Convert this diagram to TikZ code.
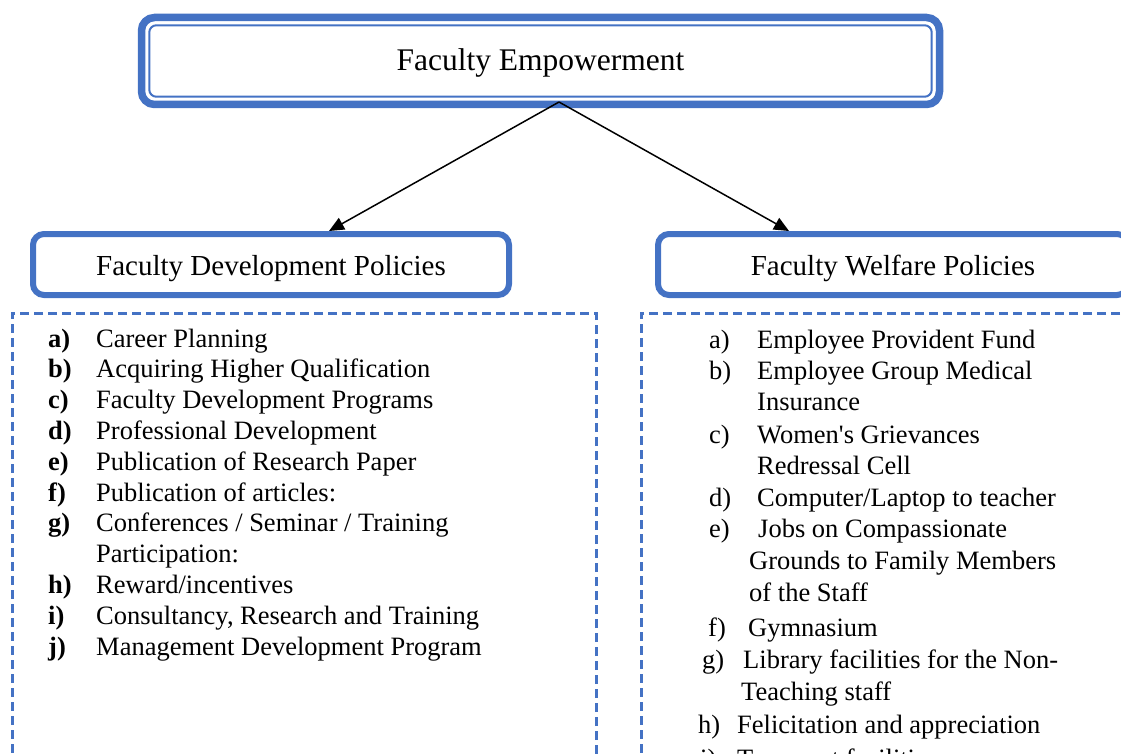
\documentclass[tikz,border=0pt]{standalone}
\usepackage{fontspec}
\newfontfamily\tnr{Liberation Serif}
\usetikzlibrary{arrows.meta}
\definecolor{frameblue}{HTML}{4472C4}
\begin{document}
\begin{tikzpicture}[x=1pt,y=-1pt,
  heading/.style={font=\tnr\fontsize{31.5}{36}\selectfont, draw=frameblue,
    line width=7.5pt, rounded corners=13pt, minimum width=798pt,
    minimum height=87pt, inner sep=0pt, outer sep=0pt,
    text height=22pt, text depth=3pt},
  innerrule/.style={draw=frameblue, line width=2pt, rounded corners=7pt},
  policybox/.style={font=\tnr\fontsize{29}{34}\selectfont, draw=frameblue,
    line width=6pt, rounded corners=11pt, minimum height=61pt, inner sep=0pt,
    text height=22pt, text depth=0.5pt},
  listframe/.style={draw=frameblue, line width=3pt,
    dash pattern=on 9pt off 5pt, inner sep=0pt, minimum height=487pt},
  entry/.style={anchor=base west, inner sep=0pt,
    font=\tnr\fontsize{26.5}{30}\selectfont},
  boldmark/.style={entry, font=\tnr\bfseries\fontsize{26.5}{30}\selectfont},
  link/.style={line width=1.5pt, -{Triangle[length=15pt,width=13pt]}}
]
\useasboundingbox (0,0) rectangle (1121,754);
\clip (0,0) rectangle (1121,754);

% top heading with thick-thin frame
\node[heading] (top) at (540.5,61) {Faculty Empowerment};
\draw[innerrule] ([shift={(7.8pt,7.8pt)}]top.south west)
  rectangle ([shift={(-7.8pt,-7.8pt)}]top.north east);

% the two policy headings
\node[policybox, minimum width=476pt] (dev) at (271,264.5) {Faculty Development Policies};
\node[policybox, minimum width=470pt] (wel) at (893,264.5) {Faculty Welfare Policies};

% connectors
\coordinate (apex) at ([shift={(18.5pt,2.5pt)}]top.south);
\draw[link] (apex) -- ([xshift=58pt]dev.north);
\draw[link] (apex) -- ([xshift=-104pt]wel.north);

% dashed list frames
\node[listframe, minimum width=584pt] (devlist) at (304,556.5) {};
\node[listframe, minimum width=500pt] (wellist) at (891,556.5) {};

% development policies
\node[boldmark] (la) at (48,347) {a)};
\node[entry] (ta) at (96,347) {Career Planning};
\node[boldmark] (lb) at (48,377.8) {b)};
\node[entry] (tb) at (96,377.8) {Acquiring Higher Qualification};
\node[boldmark] (lc) at (48,408.6) {c)};
\node[entry] (tc) at (96,408.6) {Faculty Development Programs};
\node[boldmark] (ld) at (48,439.4) {d)};
\node[entry] (td) at (96,439.4) {Professional Development};
\node[boldmark] (le) at (48,470.2) {e)};
\node[entry] (te) at (96,470.2) {Publication of Research Paper};
\node[boldmark] (lf) at (48,501) {f)};
\node[entry] (tf) at (96,501) {Publication of articles:};
\node[boldmark] (lg) at (48,531.8) {g)};
\node[entry] (tg) at (96,531.8) {Conferences / Seminar / Training};
\node[entry] (tg2) at (96,562.6) {Participation:};
\node[boldmark] (lh) at (48,593.4) {h)};
\node[entry] (th) at (96,593.4) {Reward/incentives};
\node[boldmark] (li) at (48,624.2) {i)};
\node[entry] (ti) at (96,624.2) {Consultancy, Research and Training};
\node[boldmark] (lj) at (48,655) {j)};
\node[entry] (tj) at (96,655) {Management Development Program};

% welfare policies
\node[entry] (ra) at (709,348) {a)};
\node[entry] (wa) at (757,348) {Employee Provident Fund};
\node[entry] (rb) at (709,379) {b)};
\node[entry] (wb) at (757,379) {Employee Group Medical};
\node[entry] (wb2) at (757,410) {Insurance};
\node[entry] (rc) at (709,443) {c)};
\node[entry] (wc) at (757,443) {Women's Grievances};
\node[entry] (wc2) at (757,474) {Redressal Cell};
\node[entry] (rd) at (709,506) {d)};
\node[entry] (wd) at (757,506) {Computer/Laptop to teacher};
\node[entry] (re) at (709,537) {e)};
\node[entry] (we) at (758,537) {Jobs on Compassionate};
\node[entry] (we2) at (749,569) {Grounds to Family Members};
\node[entry] (we3) at (749,601) {of the Staff};
\node[entry] (rf) at (708,636) {f)};
\node[entry] (wf) at (748,636) {Gymnasium};
\node[entry] (rg) at (702,668) {g)};
\node[entry] (wg) at (743,668) {Library facilities for the Non-};
\node[entry] (wg2) at (741,700) {Teaching staff};
\node[entry] (rh) at (698,733) {h)};
\node[entry] (wh) at (737,733) {Felicitation and appreciation};
\node[entry] (ri) at (700,767) {i)};
\node[entry] (wi) at (737,767) {Transport facilities};
\end{tikzpicture}
\end{document}
